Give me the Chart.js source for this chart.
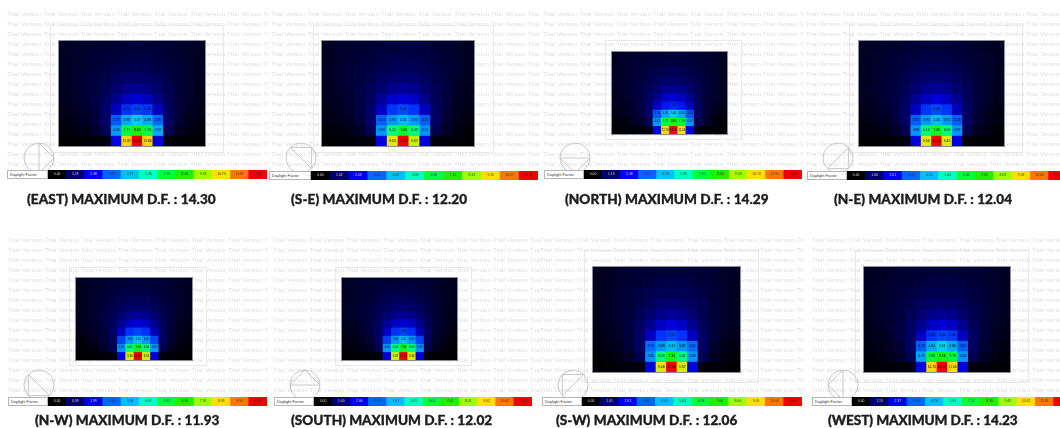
<!DOCTYPE html>
<html>
<head>
<meta charset="utf-8">
<title>Daylight factor</title>
<script src="https://cdn.jsdelivr.net/npm/chart.js@4/dist/chart.umd.min.js"></script>
<style>
  html, body { margin: 0; padding: 0; background: #fff; }
  #page { position: relative; width: 1060px; height: 428px; overflow: hidden; }
  #page > * { position: absolute; }
  .mark { overflow: hidden; white-space: nowrap; font: 6.2px "Liberation Sans", sans-serif; color: #dedede; word-spacing: 0.45px; line-height: 10px; filter: blur(0.45px); }
  .room { border: 1px solid #e8e8e8; box-sizing: border-box; }
  .heat { outline: 1px solid #8d8d96; background: #000018; filter: blur(0.45px); }
  .strip { filter: blur(0.35px); }
  .key { border: 1px solid #b5b5b5; box-sizing: border-box; background: #fff; font: 4px "Liberation Sans", sans-serif; color: #333; line-height: 8px; padding-left: 2px; }
  .title { font: 900 13.6px "Lato", sans-serif; color: #1d1d1d; white-space: nowrap; line-height: 16px; -webkit-text-stroke: 0.35px #1d1d1d; filter: blur(0.3px); }
</style>
</head>
<body>
<div id="page"></div>
<script>
'use strict'
var panelNames = ['EAST', 'S-E', 'NORTH', 'N-E', 'N-W', 'SOUTH', 'S-W', 'WEST'];
var panelMax = ['14.30', '12.20', '14.29', '12.04', '11.93', '12.02', '12.06', '14.23'];
var columns = ['1', '2', '3', '4', '5', '6', '7', '8', '9', '10', '11', '12', '13', '14'];

var eastGrid = [
  [.42,.46,.50,.54,.58,.62,.66,.68,.66,.62,.58,.52,.46,.40],
  [.42,.48,.54,.60,.66,.72,.78,.80,.78,.72,.64,.56,.48,.40],
  [.42,.50,.56,.66,.76,.86,.94,.98,.94,.84,.74,.60,.50,.40],
  [.42,.50,.60,.70,.86,1.04,1.18,1.22,1.18,1.02,.84,.66,.50,.40],
  [.40,.50,.60,.76,.98,1.28,1.54,1.62,1.52,1.24,.92,.68,.50,.38],
  [.38,.46,.58,.78,1.10,1.60,2.10,2.28,2.08,1.56,1.02,.70,.48,.34],
  [.30,.38,.52,.76,1.18,2.10,3.22,3.46,3.30,2.05,1.10,.68,.42,.26],
  [.24,.30,.44,.68,1.20,3.77,4.88,5.47,4.88,3.95,1.12,.60,.34,.20],
  [.14,.20,.30,.50,.96,4.65,7.77,8.82,7.73,4.92,.90,.44,.24,.12],
  [.06,.08,.10,.12,.18,2.45,11.87,14.30,11.86,2.38,.16,.10,.08,.06]
];
var southEastGrid = [
  [.36,.40,.44,.48,.52,.56,.60,.62,.62,.58,.54,.48,.40,.34],
  [.36,.42,.48,.54,.60,.66,.72,.74,.72,.68,.60,.50,.42,.34],
  [.36,.44,.50,.58,.68,.78,.86,.90,.88,.78,.68,.54,.44,.34],
  [.36,.44,.52,.62,.76,.92,1.06,1.12,1.08,.94,.76,.58,.44,.32],
  [.34,.42,.52,.66,.86,1.12,1.36,1.46,1.38,1.12,.84,.60,.42,.30],
  [.30,.38,.50,.68,.96,1.40,1.86,2.02,1.86,1.38,.90,.60,.38,.26],
  [.24,.32,.44,.66,1.02,1.82,2.78,3.02,2.78,1.78,.96,.56,.34,.20],
  [.18,.24,.36,.58,1.02,3.24,3.95,4.31,3.95,3.25,.96,.48,.26,.14],
  [.10,.14,.24,.42,.82,3.90,6.12,7.04,6.09,3.91,.76,.36,.18,.08],
  [.04,.06,.08,.10,.14,2.05,9.63,12.20,9.37,2.00,.12,.08,.06,.04]
];
var northGrid = [
  [.44,.48,.52,.56,.60,.64,.68,.70,.68,.64,.60,.54,.48,.42],
  [.44,.50,.56,.62,.68,.74,.80,.82,.80,.74,.66,.58,.50,.42],
  [.44,.52,.58,.68,.78,.88,.96,1.00,.96,.86,.76,.62,.52,.42],
  [.44,.52,.62,.72,.88,1.06,1.20,1.24,1.20,1.04,.86,.68,.52,.42],
  [.42,.52,.62,.78,1.00,1.30,1.56,1.64,1.54,1.26,.94,.70,.52,.40],
  [.40,.48,.60,.80,1.12,1.62,2.12,2.30,2.10,1.58,1.04,.72,.50,.36],
  [.30,.40,.54,.78,1.20,2.10,2.86,3.10,2.84,2.06,1.12,.70,.44,.28],
  [.24,.32,.46,.70,1.22,3.74,4.85,5.44,4.84,3.70,1.14,.62,.36,.20],
  [.14,.20,.32,.52,.98,4.61,7.75,8.80,7.76,4.57,.92,.46,.24,.12],
  [.06,.08,.10,.12,.18,2.40,11.76,14.29,11.46,2.34,.16,.10,.08,.06]
];
var northEastGrid = [
  [.36,.38,.42,.46,.50,.54,.58,.60,.58,.54,.50,.44,.38,.34],
  [.36,.40,.46,.52,.58,.64,.68,.70,.68,.62,.56,.48,.40,.34],
  [.36,.42,.48,.56,.66,.76,.84,.86,.84,.74,.64,.52,.42,.34],
  [.36,.42,.52,.60,.74,.90,1.04,1.08,1.04,.90,.72,.56,.42,.34],
  [.34,.42,.52,.64,.84,1.10,1.34,1.42,1.34,1.08,.80,.58,.42,.32],
  [.32,.38,.50,.66,.94,1.38,1.82,1.98,1.82,1.36,.88,.60,.40,.28],
  [.24,.32,.44,.64,1.00,1.80,2.74,2.98,2.74,1.76,.94,.56,.34,.20],
  [.18,.24,.36,.56,1.00,3.20,3.90,4.30,3.90,3.20,.94,.50,.26,.14],
  [.10,.14,.24,.40,.80,3.85,6.12,7.05,6.08,3.87,.76,.36,.18,.08],
  [.04,.06,.08,.10,.14,2.02,9.56,12.04,9.45,2.00,.12,.08,.06,.04]
];
var northWestGrid = [
  [.34,.38,.42,.46,.50,.54,.56,.58,.56,.54,.48,.44,.38,.34],
  [.34,.40,.44,.50,.56,.62,.66,.68,.66,.62,.54,.46,.40,.34],
  [.34,.40,.46,.54,.64,.74,.82,.84,.82,.72,.62,.50,.40,.34],
  [.32,.40,.48,.58,.72,.88,1.00,1.04,1.00,.86,.70,.54,.40,.32],
  [.32,.40,.48,.62,.82,1.06,1.30,1.38,1.30,1.06,.78,.56,.40,.30],
  [.30,.36,.46,.64,.90,1.34,1.78,1.92,1.78,1.32,.86,.58,.38,.26],
  [.22,.30,.42,.62,.98,1.74,2.68,2.88,2.66,1.72,.92,.54,.32,.20],
  [.16,.22,.34,.54,.96,2.85,3.86,4.31,3.85,2.86,.90,.46,.26,.14],
  [.08,.12,.22,.38,.78,3.80,6.01,7.04,6.04,3.87,.72,.34,.16,.08],
  [.04,.06,.08,.10,.14,1.98,9.36,11.93,9.31,1.96,.12,.08,.06,.04]
];
var southGrid = [
  [.36,.40,.44,.48,.52,.54,.58,.58,.56,.52,.48,.42,.36,.32],
  [.36,.42,.46,.52,.58,.64,.68,.70,.66,.62,.54,.46,.38,.32],
  [.36,.42,.48,.56,.66,.76,.84,.86,.82,.72,.62,.50,.38,.30],
  [.34,.42,.50,.60,.74,.90,1.02,1.06,1.00,.86,.70,.52,.38,.28],
  [.34,.40,.50,.64,.84,1.08,1.32,1.40,1.30,1.06,.76,.54,.36,.26],
  [.30,.36,.48,.66,.92,1.36,1.80,1.94,1.78,1.32,.84,.54,.34,.22],
  [.24,.30,.42,.62,.98,1.76,2.70,2.90,2.68,1.72,.90,.50,.30,.18],
  [.16,.22,.34,.54,.98,2.85,3.86,4.31,3.85,2.88,.90,.44,.24,.12],
  [.08,.12,.22,.38,.78,3.84,6.02,7.04,6.06,3.81,.72,.32,.16,.08],
  [.04,.06,.08,.10,.14,2.00,9.33,12.02,9.46,1.98,.12,.08,.06,.04]
];
var southWestGrid = [
  [.32,.36,.42,.46,.50,.54,.58,.60,.60,.56,.52,.46,.40,.36],
  [.32,.38,.46,.52,.58,.64,.70,.72,.70,.66,.58,.50,.42,.36],
  [.32,.38,.48,.56,.66,.76,.84,.88,.86,.76,.66,.54,.44,.36],
  [.30,.38,.48,.58,.72,.90,1.04,1.10,1.06,.92,.74,.58,.44,.36],
  [.28,.38,.48,.62,.84,1.10,1.36,1.44,1.36,1.10,.82,.60,.44,.34],
  [.24,.34,.46,.64,.94,1.38,1.84,2.00,1.84,1.38,.90,.62,.42,.30],
  [.20,.28,.42,.62,1.00,1.80,2.74,2.96,2.74,1.78,.98,.58,.36,.24],
  [.14,.22,.34,.56,1.00,3.37,3.88,4.31,3.87,3.35,.96,.50,.28,.16],
  [.08,.14,.24,.40,.80,3.85,6.09,7.35,6.01,3.86,.78,.36,.20,.10],
  [.04,.06,.08,.10,.14,2.02,9.48,12.06,9.37,2.00,.12,.08,.06,.04]
];
var westGrid = [
  [.40,.44,.50,.54,.58,.62,.66,.68,.68,.64,.60,.54,.48,.42],
  [.40,.46,.54,.60,.66,.72,.78,.80,.80,.74,.66,.58,.50,.42],
  [.40,.48,.56,.66,.76,.86,.94,.98,.96,.86,.76,.62,.52,.42],
  [.38,.48,.58,.70,.86,1.04,1.18,1.22,1.20,1.04,.86,.68,.52,.42],
  [.36,.46,.58,.76,.98,1.28,1.54,1.64,1.56,1.26,.94,.70,.52,.40],
  [.34,.42,.56,.78,1.10,1.62,2.12,2.30,2.12,1.60,1.04,.72,.50,.36],
  [.28,.36,.50,.76,1.18,2.12,3.25,3.50,3.33,2.08,1.12,.70,.44,.28],
  [.20,.28,.42,.68,1.20,3.78,4.84,5.51,4.86,3.83,1.14,.62,.36,.22],
  [.12,.18,.30,.50,.96,4.76,7.86,8.56,7.74,4.58,.92,.46,.26,.14],
  [.06,.08,.10,.12,.18,2.44,11.76,14.23,11.66,2.40,.16,.10,.08,.06]
];
var panelGrids = [eastGrid, southEastGrid, northGrid, northEastGrid, northWestGrid, southGrid, southWestGrid, westGrid];

var eastTicks = ['0.00','1.19','2.38','3.58','4.77','5.96','7.15','8.34','9.53','10.73','11.92','13.11'];
var southEastTicks = ['0.00','1.02','2.03','3.05','4.07','5.08','6.10','7.12','8.13','9.15','10.17','11.18'];
var northTicks = ['0.00','1.19','2.38','3.57','4.76','5.95','7.15','8.34','9.53','10.72','11.91','13.10'];
var northEastTicks = ['0.00','1.00','2.01','3.01','4.01','5.02','6.02','7.02','8.03','9.03','10.03','11.04'];
var northWestTicks = ['0.00','0.99','1.99','2.98','3.98','4.97','5.97','6.96','7.95','8.95','9.94','10.94'];
var southTicks = ['0.00','1.00','2.00','3.01','4.01','5.01','6.01','7.01','8.01','9.02','10.02','11.02'];
var southWestTicks = ['0.00','1.01','2.01','3.02','4.02','5.03','6.03','7.04','8.04','9.05','10.05','11.06'];
var westTicks = ['0.00','1.19','2.37','3.56','4.74','5.93','7.12','8.30','9.49','10.67','11.86','13.04'];
var panelTicks = [eastTicks, southEastTicks, northTicks, northEastTicks, northWestTicks, southTicks, southWestTicks, westTicks];

var scaleColors = [
  [0, 0, 0], [0, 0, 112], [0, 0, 240], [0, 102, 255], [0, 192, 255], [0, 255, 192],
  [0, 255, 64], [32, 240, 0], [160, 255, 0], [255, 224, 0], [255, 119, 0], [240, 0, 0]
];

// layout of each panel: heat map box, room outline, key strip, compass, title
var heatBoxes = [[59,41,146,105],[322,41,152,105],[612,52,115,82],[859,41,145,105],[76,278,116,82],[342,278,115,82],[593,267,147,105],[864,267,146,105]];
var roomBoxes = [[50,25,174,128],[313,25,181,128],[605,40,137,100],[849,25,174,128],[69,267,138,99],[335,267,137,99],[584,250,175,133],[855,250,174,133]];
var keyBoxes = [[7,170,41,260,9],[269,171,42,269,9],[544,170,40,258,9],[807,171,40,260,9],[8,397,40,259,9],[274,397,40,258,9],[542,397,40,260,9],[812,397,40,260,9]];
var compass = [[39,158,0],[301,158,-45],[575,158,90],[838,158,45],[39,385,135],[305,385,-90],[573,385,-135],[843,385,180]];
var titleSpots = [[27,199,189],[291,199,176],[565,199,204],[834,199,178],[35,420,184],[291,420,201],[556,420,181],[828,420,190]];
var markColumns = [[0,268,7,14],[268,272,271,14],[540,264,543,14],[804,256,806,14],[0,268,8,240],[268,272,273,240],[540,264,540,240],[804,256,812,240]];

var page = document.getElementById('page');

function addElement(tag, className, box, text) {
  var element = document.createElement(tag);
  if (className) {
    element.className = className;
  }
  element.style.left = box[0] + 'px';
  element.style.top = box[1] + 'px';
  if (box[2]) {
    element.style.width = box[2] + 'px';
  }
  if (box[3]) {
    element.style.height = box[3] + 'px';
  }
  if (text) {
    element.textContent = text;
  }
  page.appendChild(element);
  return element;
}

function colorFor(value, max) {
  var t = Math.min(value / max * 11, 11);
  var low = Math.floor(t);
  var high = Math.min(low + 1, 11);
  var mix = t - low;
  var rgb = [];
  for (var i = 0; i < 3; i++) {
    rgb.push(Math.round(scaleColors[low][i] + (scaleColors[high][i] - scaleColors[low][i]) * mix));
  }
  return 'rgb(' + rgb.join(',') + ')';
}

// numbers printed in the hot cells
var cellLabels = {
  id: 'cellLabels',
  afterDatasetsDraw: function (chart, args, opts) {
    var ctx = chart.ctx;
    ctx.save();
    ctx.font = opts.size + 'px "Liberation Sans", sans-serif';
    ctx.textAlign = 'center';
    ctx.textBaseline = 'middle';
    chart.data.datasets.forEach(function (dataset, d) {
      chart.getDatasetMeta(d).data.forEach(function (bar, i) {
        var text = dataset.cellText[i];
        if (text) {
          var mid = bar.getCenterPoint();
          ctx.fillStyle = dataset.textColor ? dataset.textColor[i] : '#000';
          ctx.fillText(text, mid.x, mid.y);
        }
      });
    });
    ctx.restore();
  }
};

function hiddenScales(yMax, reverse) {
  return {
    x: { display: false, stacked: true, offset: true, grid: { display: false } },
    y: { display: false, min: 0, max: yMax, reverse: reverse, grid: { display: false } }
  };
}

function makeCanvas(className, box) {
  var canvas = addElement('canvas', className, box);
  canvas.width = box[2];
  canvas.height = box[3];
  return canvas;
}

function drawHeat(index) {
  var box = heatBoxes[index];
  var grid = panelGrids[index];
  var max = parseFloat(panelMax[index]);
  var datasets = [];
  for (var r = 0; r < grid.length; r++) {
    var spans = [], colors = [], texts = [];
    for (var c = 0; c < grid[r].length; c++) {
      spans.push([r, r + 1]);
      colors.push(colorFor(grid[r][c], max));
      texts.push(grid[r][c] >= 2.9 ? grid[r][c].toFixed(2) : '');
    }
    datasets.push({ data: spans, backgroundColor: colors, cellText: texts, borderWidth: 0, barPercentage: 1, categoryPercentage: 1 });
  }
  new Chart(makeCanvas('heat', box), {
    type: 'bar',
    data: { labels: columns, datasets: datasets },
    plugins: [cellLabels],
    options: {
      responsive: false, animation: false, devicePixelRatio: 1,
      layout: { padding: 0 },
      scales: hiddenScales(grid.length, true),
      plugins: { legend: { display: false }, tooltip: { enabled: false }, cellLabels: { size: box[2] > 130 ? 3.4 : 2.8 } }
    }
  });
}

function drawKey(index) {
  var box = keyBoxes[index];
  var ticks = panelTicks[index];
  addElement('div', 'key', [box[0], box[1], box[2], box[4]], 'Daylight Factor');
  var colors = [], textColors = [], spans = [];
  for (var i = 0; i < ticks.length; i++) {
    spans.push([0, 1]);
    colors.push('rgb(' + scaleColors[i].join(',') + ')');
    textColors.push(i < 3 ? '#ddd' : '#333');
  }
  new Chart(makeCanvas('strip', [box[0] + box[2], box[1], box[3] - box[2], box[4]]), {
    type: 'bar',
    data: { labels: ticks, datasets: [{ data: spans, backgroundColor: colors, cellText: ticks, textColor: textColors, borderWidth: 0, barPercentage: 1, categoryPercentage: 1 }] },
    plugins: [cellLabels],
    options: {
      responsive: false, animation: false, devicePixelRatio: 1,
      layout: { padding: 0 },
      scales: hiddenScales(1, false),
      plugins: { legend: { display: false }, tooltip: { enabled: false }, cellLabels: { size: 3.4 } }
    }
  });
}

function drawCompass(spot) {
  var r = 15;
  var a = spot[2] * Math.PI / 180;
  var svg = document.createElementNS('http://www.w3.org/2000/svg', 'svg');
  svg.setAttribute('width', 34);
  svg.setAttribute('height', 34);
  svg.style.left = (spot[0] - 17) + 'px';
  svg.style.top = (spot[1] - 17) + 'px';
  var tip = [17 + r * Math.cos(a), 17 + r * Math.sin(a)];
  var one = [17 + r * Math.cos(a + Math.PI / 2), 17 + r * Math.sin(a + Math.PI / 2)];
  var two = [17 + r * Math.cos(a - Math.PI / 2), 17 + r * Math.sin(a - Math.PI / 2)];
  svg.innerHTML = '<circle cx="17" cy="17" r="' + r + '" fill="none" stroke="#c8c8c8" stroke-width="1"/>' +
    '<polygon points="' + tip.join(',') + ' ' + one.join(',') + ' ' + two.join(',') + '" fill="none" stroke="#c8c8c8" stroke-width="1"/>';
  page.appendChild(svg);
}

function drawMarks(spot) {
  var line = '';
  for (var n = 0; n < 9; n++) {
    line += 'Trial Version ';
  }
  for (var i = 0; i < 16; i++) {
    var row = addElement('div', 'mark', [spot[0], spot[3] + i * 10 - 5, spot[1], 10]);
    var span = document.createElement('span');
    span.style.marginLeft = (spot[2] - spot[0]) + 'px';
    span.textContent = line;
    row.appendChild(span);
  }
}

function drawTitle(index) {
  var spot = titleSpots[index];
  var text = '(' + panelNames[index] + ') MAXIMUM D.F. : ' + panelMax[index];
  var title = addElement('div', 'title', [spot[0], spot[1] - 8], text);
  // stretch the line to the width it has in the picture
  title.style.letterSpacing = ((spot[2] - title.offsetWidth) / text.length) + 'px';
}

markColumns.forEach(drawMarks);
roomBoxes.forEach(function (box) { addElement('div', 'room', box); });
compass.forEach(drawCompass);
for (var p = 0; p < panelNames.length; p++) {
  drawHeat(p);
  drawKey(p);
  drawTitle(p);
}
</script>
</body>
</html>
